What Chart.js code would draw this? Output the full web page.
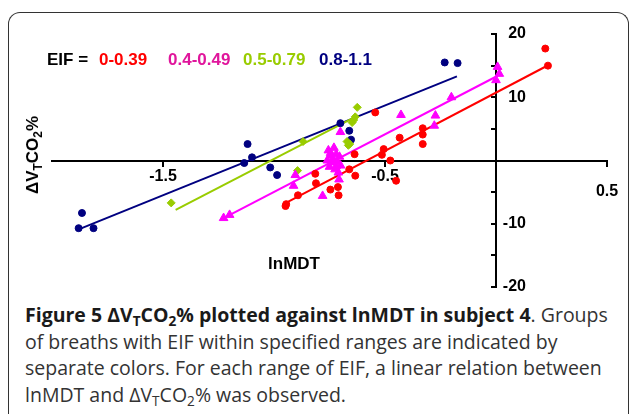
<!DOCTYPE html>
<html>
<head>
<meta charset="utf-8">
<script src="https://cdn.jsdelivr.net/npm/chart.js@4.4.1/dist/chart.umd.min.js"></script>
<style>
body { margin: 0; width: 629px; height: 414px; overflow: hidden; background: #fff; position: relative; font-family: "Liberation Sans", Arial, sans-serif; }
#frame { position: absolute; left: 8px; top: 12px; right: 0; height: 430px; border: 1.5px solid #333; border-bottom: none; border-radius: 12px 12px 0 0; box-sizing: border-box; }
#chart { position: absolute; left: 0; top: 0; }
.lg { position: absolute; top: 51px; font-weight: bold; font-size: 17px; line-height: 18px; white-space: nowrap; }
#ytitle { position: absolute; left: 33px; top: 155px; transform: translate(-50%, -50%) rotate(-90deg); font-weight: bold; font-size: 17px; white-space: nowrap; }
#xtitle { position: absolute; left: 294px; top: 264px; transform: translate(-50%, -50%); font-weight: bold; font-size: 17px; }
#caption { position: absolute; left: 25px; top: 302px; font-family: "Open Sans"; font-size: 19.5px; line-height: 26.7px; color: #333; white-space: nowrap; }
#caption b { color: #1a1a1a; }
sub { font-size: 0.7em; vertical-align: baseline; position: relative; top: 0.3em; line-height: 0; }
</style>
</head>
<body>
<div id="frame"></div>
<canvas id="chart" width="629" height="300"></canvas>
<div id="legend"></div>
<div id="ytitle">ΔV<sub>T</sub>CO<sub>2</sub>%</div>
<div id="xtitle">lnMDT</div>
<div id="caption"><b>Figure 5 ΔV<sub>T</sub>CO<sub>2</sub>% plotted against lnMDT in subject 4</b>. Groups<br>of breaths with EIF within specified ranges are indicated by<br>separate colors. For each range of EIF, a linear relation between<br>lnMDT and ΔV<sub>T</sub>CO<sub>2</sub>% was observed.</div>
<script>
const $ = id => document.getElementById(id);

// EIF groups
const eifLabels = ['0-0.39', '0.4-0.49', '0.5-0.79', '0.8-1.1'];
const eifTextColors = ['#ff0000', '#e0169c', '#99cc00', '#000080'];
const eifLineColors = ['#ff0000', '#ff00ff', '#99cc00', '#000080'];

// tick positions
const xTicks = [-1.5, -0.5, 0.5];
const yLabelled = [20, 10, -10, -20];

// breaths: [lnMDT, dVtCO2%]
const redPoints = [[0.222, 17.7], [0.234, 15.0], [-0.33, 5.1], [-0.33, 4.1], [-0.33, 2.6], [-0.434, 3.6],
    [-0.506, 1.8], [-0.514, 0.9], [-0.476, 0.0], [-0.544, 7.6], [-0.45, -3.2], [-0.637, 1.0], [-0.661, -1.4],
    [-0.634, -2.4], [-0.712, -4.2], [-0.746, -4.6], [-0.709, -5.5], [-0.811, -3.6], [-0.814, -2.1],
    [-0.892, -5.5], [-0.945, -6.9], [-0.948, -7.2]];
const magentaPoints = [[0.007, 14.8], [0.015, 13.7], [0.0, 12.7], [-0.201, 10.0], [-0.428, 7.2], [-0.273, 7.1],
    [-0.278, 5.5], [-0.701, 4.5], [-0.781, -5.6], [-0.707, -3.0], [-0.904, -2.3], [-0.912, -4.0],
    [-1.227, -9.1], [-1.2, -8.6],
    [-0.755, 1.6], [-0.73, 2.0], [-0.745, 0.8], [-0.72, 1.0], [-0.705, 0.6], [-0.76, 0.0], [-0.74, -0.3],
    [-0.715, -0.2], [-0.70, -0.8], [-0.75, -1.0], [-0.725, -1.4], [-0.71, -1.9], [-0.735, 0.3], [-0.72, -0.9],
    [-0.745, 1.2]];
const greenPoints = [[-1.463, -6.7], [-0.869, 3.0], [-0.894, -1.6], [-0.625, 8.4], [-0.641, 6.4], [-0.648, 6.0],
    [-0.634, 6.9], [-0.671, 3.0], [-0.659, 2.6], [-0.665, 2.4]];
const navyPoints = [[-1.865, -8.3], [-1.88, -10.7], [-1.813, -10.7], [-1.119, 2.6], [-1.099, 0.5], [-1.134, -0.4],
    [-1.017, -1.1], [-0.986, -2.3], [-0.701, 5.9], [-0.661, 4.7], [-0.653, 3.3], [-0.231, 15.5], [-0.173, 15.4]];

// linear fits, end points
const redFit = [[-0.946, -6.7], [0.237, 15.1]];
const magentaFit = [[-1.227, -9.1], [0.008, 13.4]];
const greenFit = [[-1.443, -7.8], [-0.634, 6.9]];
const navyFit = [[-1.88, -10.9], [-0.176, 13.3]];

const pts = arr => arr.map(([x, y]) => ({x, y}));

const legendLeft = [99, 168, 243, 319];
$('legend').innerHTML = '<span class="lg" style="left:47px;color:#000">EIF =</span>' +
    eifLabels.map((t, i) => `<span class="lg" style="left:${legendLeft[i]}px;color:${eifTextColors[i]}">${t}</span>`).join('');

const scatter = (data, color, style, radius, order) => ({
    data: pts(data),
    pointStyle: style,
    pointRadius: radius,
    backgroundColor: color,
    borderColor: color,
    borderWidth: 1,
    showLine: false,
    order
});
const fit = (data, color) => ({
    data: pts(data),
    showLine: true,
    borderColor: color,
    borderWidth: 2,
    pointRadius: 0,
    order: 10
});

const tickFont = {family: 'Liberation Sans', weight: 'bold', size: 16, lineHeight: 0.9};
const axisGrid = len => ({display: true, drawOnChartArea: false, drawTicks: true, tickLength: len, color: '#000', lineWidth: 2});

new Chart($('chart').getContext('2d'), {
    type: 'scatter',
    data: {
        datasets: [
            scatter(magentaPoints, eifLineColors[1], 'triangle', 5, 1),
            scatter(redPoints, eifLineColors[0], 'circle', 3.5, 2),
            scatter(greenPoints, eifLineColors[2], 'rectRot', 4, 3),
            scatter(navyPoints, eifLineColors[3], 'circle', 3.5, 4),
            fit(redFit, eifLineColors[0]),
            fit(magentaFit, eifLineColors[1]),
            fit(greenFit, eifLineColors[2]),
            fit(navyFit, eifLineColors[3])
        ]
    },
    options: {
        responsive: false,
        animation: false,
        layout: {padding: {left: 52, right: 22, top: 34, bottom: 13}},
        plugins: {legend: {display: false}, tooltip: {enabled: false}},
        scales: {
            x: {
                type: 'linear',
                min: -2.0,
                max: 0.5,
                position: {y: 0},
                afterFit: s => { s.height = 0; },
                afterBuildTicks: s => { s.ticks = xTicks.map(v => ({value: v})); },
                ticks: {
                    font: tickFont,
                    color: '#000',
                    padding: 4,
                    callback: v => v === 0.5 ? ['', '0.5'] : String(v)
                },
                grid: axisGrid(5),
                border: {display: true, color: '#000', width: 2}
            },
            y: {
                type: 'linear',
                min: -20,
                max: 20,
                position: {x: 0},
                afterFit: s => { s.width = 0; },
                ticks: {stepSize: 5, display: false},
                grid: axisGrid(4),
                border: {display: true, color: '#000', width: 2}
            },
            // y labels sit to the right of the axis line, so they get their own scale
            y2: {
                type: 'linear',
                min: -20,
                max: 20,
                position: {x: 0.135},
                afterFit: s => { s.width = 0; },
                ticks: {
                    stepSize: 10,
                    padding: 0,
                    font: tickFont,
                    color: '#000',
                    callback: v => yLabelled.includes(v) ? String(v) : ''
                },
                grid: {display: false},
                border: {display: false}
            }
        }
    }
});
</script>
</body>
</html>
